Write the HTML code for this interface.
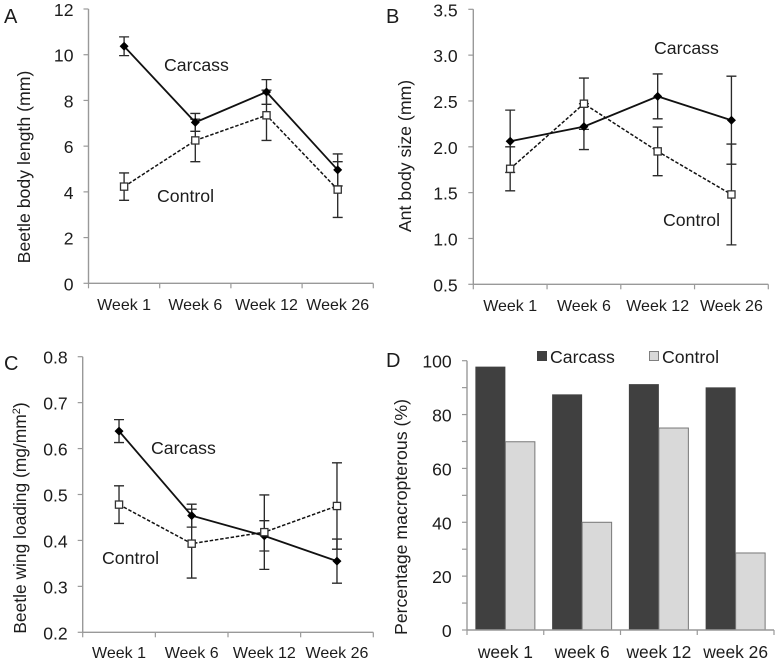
<!DOCTYPE html>
<html lang="en">
<head>
<meta charset="utf-8">
<title>Beetle and ant measurements, carcass vs control</title>
<style>
html,body{margin:0;padding:0;background:#fff;width:779px;height:664px;overflow:hidden}
svg{display:block;font-family:"Liberation Sans",Arial,sans-serif;fill:#1c1c1c;filter:blur(0.3px)}
</style>
</head>
<body>
<svg id="figure" xmlns="http://www.w3.org/2000/svg" width="779" height="664" viewBox="0 0 779 664">
  <text x="4" y="23" font-size="20">A</text>
  <text x="386" y="23" font-size="20">B</text>
  <text x="4" y="370" font-size="20">C</text>
  <text x="386" y="367" font-size="20">D</text>

  <text transform="translate(30 167) rotate(-90)" text-anchor="middle" font-size="17.7">Beetle body length (mm)</text>
  <text transform="translate(411 156) rotate(-90)" text-anchor="middle" font-size="17.7">Ant body size (mm)</text>
  <text transform="translate(26 518) rotate(-90)" text-anchor="middle" font-size="17.4">Beetle wing loading (mg/mm<tspan font-size="11" dy="-6">2</tspan><tspan dy="6">)</tspan></text>
  <text transform="translate(407 517) rotate(-90)" text-anchor="middle" font-size="17.7">Percentage macropterous (%)</text>

  <text x="164" y="71" font-size="17.7">Carcass</text>
  <text x="157" y="202" font-size="17.7">Control</text>
  <text x="654" y="54" font-size="17.7">Carcass</text>
  <text x="663" y="226" font-size="17.7">Control</text>
  <text x="151" y="454" font-size="17.7">Carcass</text>
  <text x="102" y="564" font-size="17.7">Control</text>

  <rect x="537" y="351" width="10" height="10" fill="#404040"/>
  <text x="550" y="363" font-size="17.7">Carcass</text>
  <rect x="649.5" y="351.5" width="9" height="9" fill="#d9d9d9" stroke="#7f7f7f" stroke-width="1"/>
  <text x="662" y="363" font-size="17.7">Control</text>
</svg>
<script>
// Categories
const weeksUpper = ['Week 1', 'Week 6', 'Week 12', 'Week 26'];
const weeksLower = ['week 1', 'week 6', 'week 12', 'week 26'];

// Panel A: beetle body length (mm)
const aTicks = ['0', '2', '4', '6', '8', '10', '12'];
const aCarcass = [10.37, 7.04, 8.37, 4.96];
const aCarcassErr = [0.41, 0.39, 0.54, 0.70];
const aControl = [4.23, 6.25, 7.35, 4.10];
const aControlErr = [0.60, 0.93, 1.10, 1.22];

// Panel B: ant body size (mm)
const bTicks = ['0.5', '1.0', '1.5', '2.0', '2.5', '3.0', '3.5'];
const bCarcass = [2.06, 2.22, 2.55, 2.29];
const bCarcassErr = [0.34, 0.25, 0.245, 0.48];
const bControl = [1.76, 2.47, 1.95, 1.48];
const bControlErr = [0.24, 0.28, 0.265, 0.55];

// Panel C: beetle wing loading (mg/mm2)
const cTicks = ['0.2', '0.3', '0.4', '0.5', '0.6', '0.7', '0.8'];
const cCarcass = [0.638, 0.454, 0.41, 0.355];
const cCarcassErr = [0.025, 0.025, 0.033, 0.048];
const cControl = [0.478, 0.393, 0.418, 0.475];
const cControlErr = [0.041, 0.075, 0.081, 0.094];

// Panel D: percentage macropterous (%)
const dTicks = ['0', '20', '40', '60', '80', '100'];
const dMinorTicks = [10, 30, 50, 70, 90];
const dCarcass = [97.8, 87.5, 91.3, 90.1];
const dControl = [69.9, 40, 75, 28.6];

const svg = document.getElementById('figure');
const NS = 'http://www.w3.org/2000/svg';

function make(tag, props) {
  const el = document.createElementNS(NS, tag);
  for (const k in props) el.setAttribute(k, props[k]);
  svg.appendChild(el);
  return el;
}

function scales(box, domainMin, domainMax, count) {
  return {
    x: function (i) { return box.left + (box.right - box.left) * (i + 0.5) / count; },
    edge: function (i) { return box.left + (box.right - box.left) * i / count; },
    y: function (v) { return box.bottom - (box.bottom - box.top) * (v - domainMin) / (domainMax - domainMin); }
  };
}

function drawAxes(prefix, box, s, tickLabels, categories, catBaseline, catSize) {
  const yAxis = make('line', { x1: box.left, x2: box.left, y1: box.top, y2: box.bottom, stroke: '#999', 'stroke-width': 1.4 });
  
  
  const xAxis = make('line', { x1: box.left, x2: box.right, y1: box.bottom, y2: box.bottom, stroke: '#999', 'stroke-width': 1.4 });
  
  

  tickLabels.forEach(function (label) {
    const py = s.y(Number(label));
    const tick = make('line', { x1: box.left - 5, x2: box.left, y1: py, y2: py, stroke: '#999', 'stroke-width': 1.2 });
    
    
    const text = make('text', { x: box.labelRight, y: py + 7, 'text-anchor': 'end', 'font-size': 17.6 });
    text.textContent = label;
    
    
  });

  categories.forEach(function (label, i) {
    const text = make('text', { x: s.x(i), y: catBaseline, 'text-anchor': 'middle', 'font-size': catSize });
    text.textContent = label;
    
    
  });
  for (let i = 0; i <= categories.length; i++) {
    const tick = make('line', { x1: s.edge(i), x2: s.edge(i), y1: box.bottom, y2: box.bottom + 5, stroke: '#999', 'stroke-width': 1.2 });
    
    
  }
}

function drawErrors(prefix, series, s, values, errs) {
  values.forEach(function (v, i) {
    const px = s.x(i);
    const hi = s.y(v + errs[i]);
    const lo = s.y(v - errs[i]);
    const d = 'M' + px + ' ' + hi + 'V' + lo + 'M' + (px - 5) + ' ' + hi + 'H' + (px + 5) + 'M' + (px - 5) + ' ' + lo + 'H' + (px + 5);
    const bar = make('path', { d: d, fill: 'none', stroke: '#2a2a2a', 'stroke-width': 1.35 });
    
    
  });
}

function drawLine(prefix, series, s, values, dash, width) {
  const pts = values.map(function (v, i) { return s.x(i) + ',' + s.y(v); }).join(' ');
  const line = make('polyline', { points: pts, fill: 'none', stroke: '#111', 'stroke-width': width, 'stroke-dasharray': dash });
  
  
}

function drawLinePanel(prefix, box, min, max, ticks, carcass, carcassErr, control, controlErr, baseline) {
  const s = scales(box, min, max, weeksUpper.length);
  drawAxes(prefix, box, s, ticks, weeksUpper, baseline, 16);
  drawErrors(prefix, 'carcass', s, carcass, carcassErr);
  drawErrors(prefix, 'control', s, control, controlErr);
  drawLine(prefix, 'control', s, control, '3.5 1.8', 1.5);
  drawLine(prefix, 'carcass', s, carcass, 'none', 1.8);
  carcass.forEach(function (v, i) {
    const px = s.x(i);
    const py = s.y(v);
    const r = 4.5;
    const mark = make('polygon', { points: (px - r) + ',' + py + ' ' + px + ',' + (py - r) + ' ' + (px + r) + ',' + py + ' ' + px + ',' + (py + r), fill: '#000' });
    
    
  });
  control.forEach(function (v, i) {
    const mark = make('rect', { x: s.x(i) - 3.6, y: s.y(v) - 3.6, width: 7.2, height: 7.2, fill: '#fff', stroke: '#333', 'stroke-width': 1.3 });
    
    
  });
}

drawLinePanel('panel-a', { left: 88.5, right: 373.3, top: 9, bottom: 283.3, labelRight: 73.5 }, 0, 12, aTicks, aCarcass, aCarcassErr, aControl, aControlErr, 310);
drawLinePanel('panel-b', { left: 473.3, right: 768.3, top: 9.3, bottom: 284.3, labelRight: 457.7 }, 0.5, 3.5, bTicks, bCarcass, bCarcassErr, bControl, bControlErr, 311);
drawLinePanel('panel-c', { left: 82.7, right: 373.3, top: 356.7, bottom: 632.3, labelRight: 67.7 }, 0.2, 0.8, cTicks, cCarcass, cCarcassErr, cControl, cControlErr, 658);

(function drawBarPanel() {
  const prefix = 'panel-d';
  const box = { left: 467, right: 774, top: 360.7, bottom: 630, labelRight: 451.7 };
  const s = scales(box, 0, 100, weeksLower.length);
  const barW = 30;
  dCarcass.forEach(function (v, i) {
    const bar = make('rect', { x: s.x(i) - barW, y: s.y(v), width: barW, height: box.bottom - s.y(v), fill: '#404040' });
    
    
  });
  dControl.forEach(function (v, i) {
    const bar = make('rect', { x: s.x(i), y: s.y(v), width: barW - 0.5, height: box.bottom - s.y(v), fill: '#d9d9d9', stroke: '#777', 'stroke-width': 1 });
    
    
  });
  dMinorTicks.forEach(function (v) {
    const tick = make('line', { x1: box.left - 5, x2: box.left, y1: s.y(v), y2: s.y(v), stroke: '#999', 'stroke-width': 1.2 });
    
    
  });
  drawAxes(prefix, box, s, dTicks, weeksLower, 658, 17.4);
})();
</script>
</body>
</html>
